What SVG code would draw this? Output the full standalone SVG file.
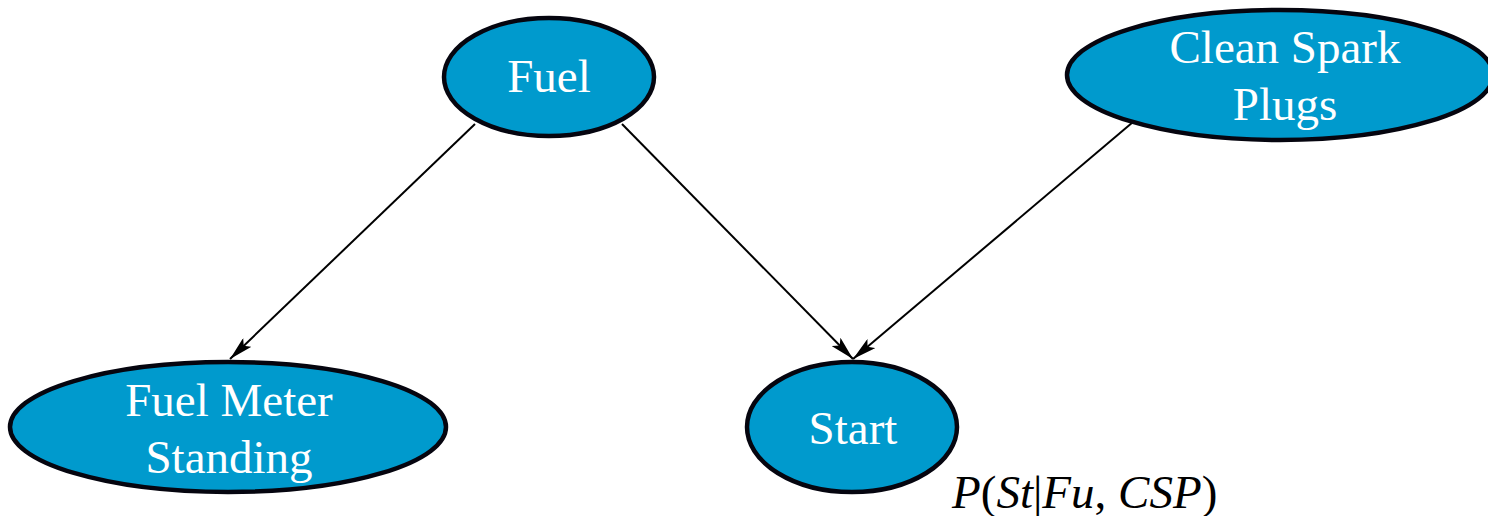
<svg xmlns="http://www.w3.org/2000/svg" width="1488" height="516" viewBox="0 0 1488 516">
  <style>
    .node { fill: #009acd; stroke: #05050f; stroke-width: 4.5; }
    .label { font-size: 47px; fill: #ffffff; text-anchor: middle; }
    .edge { stroke: #000000; stroke-width: 2; fill: none; marker-end: url(#arrow); }
    .formula { font-size: 47px; fill: #000000; }
  </style>
  <defs>
    <marker id="arrow" viewBox="0 0 24 12" refX="24" refY="6" markerWidth="24" markerHeight="12" markerUnits="userSpaceOnUse" orient="auto">
      <path d="M0,0 L24,6 L0,12 L5,6 Z" fill="#000000"/>
    </marker>
  </defs>
  <rect width="1488" height="516" fill="#ffffff"/>

  <!-- connectors -->
  <g id="edges">
    <line class="edge" x1="475" y1="124" x2="230" y2="359"/>
    <line class="edge" x1="622" y1="124" x2="853" y2="359"/>
    <line class="edge" x1="1133" y1="122" x2="853" y2="359"/>
  </g>

  <!-- nodes -->
  <g font-family="'Liberation Serif', 'Times New Roman', serif">
    <g id="fuel">
      <ellipse class="node" cx="549" cy="77" rx="105" ry="59"/>
      <text class="label" x="549" y="92">Fuel</text>
    </g>
    <g id="clean-spark-plugs">
      <ellipse class="node" cx="1280" cy="75" rx="213" ry="65"/>
      <text class="label" x="1285" y="63">Clean Spark</text>
      <text class="label" x="1285" y="120">Plugs</text>
    </g>
    <g id="fuel-meter-standing">
      <ellipse class="node" cx="228" cy="427" rx="218" ry="65"/>
      <text class="label" x="229" y="416">Fuel Meter</text>
      <text class="label" x="229" y="473">Standing</text>
    </g>
    <g id="start">
      <ellipse class="node" cx="852" cy="427" rx="105" ry="65"/>
      <text class="label" x="853" y="444">Start</text>
    </g>

    <!-- conditional probability of Start -->
    <text class="formula" x="952" y="508"><tspan font-style="italic">P</tspan>(<tspan font-style="italic">St</tspan>|<tspan font-style="italic">Fu</tspan>, <tspan font-style="italic">CSP</tspan>)</text>
  </g>
</svg>
